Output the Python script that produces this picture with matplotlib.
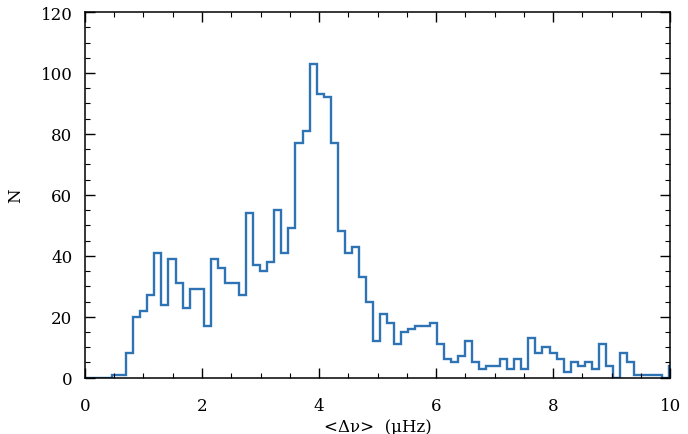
import numpy as np
import matplotlib
matplotlib.use("Agg")
import matplotlib.pyplot as plt
from matplotlib.ticker import MultipleLocator

# histogram of <dnu>, bins
bin_start = 0.1
bin_width = 0.1206
counts = [0, 0, 0, 1, 1, 8, 20, 22, 27, 41,
          24, 39, 31, 23, 29, 29, 17, 39, 36, 31,
          31, 27, 54, 37, 35, 38, 55, 41, 49, 77,
          81, 103, 93, 92, 77, 48, 41, 43, 33, 25,
          12, 21, 18, 11, 15, 16, 17, 17, 18, 11,
          6, 5, 7, 12, 5, 3, 4, 4, 6, 3,
          6, 3, 13, 8, 10, 8, 6, 2, 5, 4,
          5, 3, 11, 4, 0, 8, 5, 1, 1, 1,
          1, 0, 4]
xticks = [0, 2, 4, 6, 8, 10]
yticks = [0, 20, 40, 60, 80, 100, 120]

plt.rcParams['font.family'] = ['DejaVu Serif']

edges = bin_start + bin_width * np.arange(len(counts) + 1)
edges = np.concatenate([[0.0], edges])
vals = np.concatenate([[0], counts])

fig = plt.figure(figsize=(6.88, 4.35), dpi=100)
ax = fig.add_axes([0.1235, 0.1294, 0.8505, 0.8406])
ax.stairs(vals, edges, color='#2e74b5', linewidth=1.7, baseline=None)

ax.set_xlim(0, 10)
ax.set_ylim(0, 120)
ax.set_xticks(xticks)
ax.set_yticks(yticks)
ax.xaxis.set_minor_locator(MultipleLocator(0.5))
ax.yaxis.set_minor_locator(MultipleLocator(5))
ax.tick_params(which='both', direction='in', top=True, right=True, labelsize=12)
ax.tick_params(axis='x', which='major', pad=14)
ax.tick_params(axis='y', which='major', pad=9)
ax.tick_params(which='major', length=7, width=1)
ax.tick_params(which='minor', length=3.5, width=0.8)
for s in ax.spines.values():
    s.set_linewidth(1.1)

ax.set_xlabel('<Δν>  (μHz)', fontsize=12, labelpad=3)
ax.set_ylabel('N', fontsize=12, labelpad=12)

fig.savefig('out.png', dpi=100)
